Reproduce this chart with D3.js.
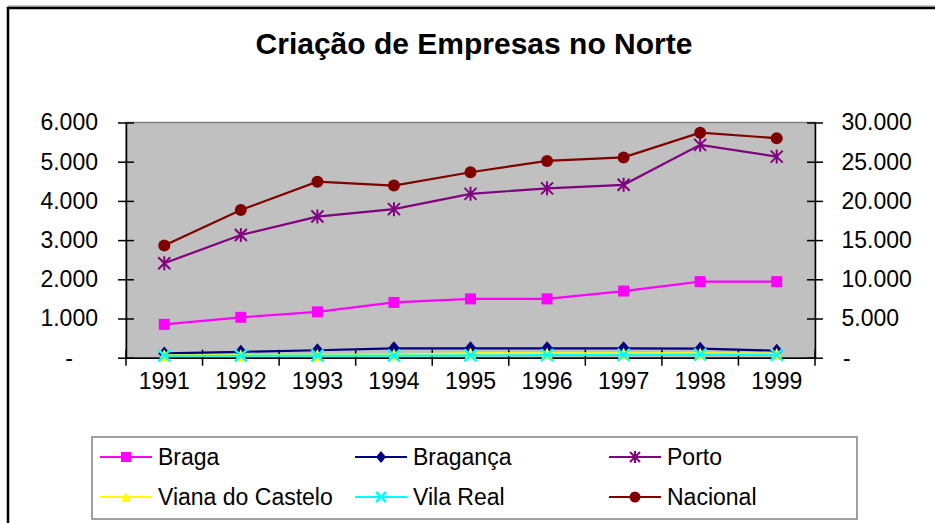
<!DOCTYPE html>
<html>
<head>
<meta charset="utf-8">
<script src="https://cdn.jsdelivr.net/npm/d3@7"></script>
<style>
  body { margin: 0; background: #fff; }
  svg { display: block; font-family: "Liberation Sans", Arial, sans-serif; }
</style>
</head>
<body>
<svg width="935" height="523"></svg>
<script>
// Data
const years = ['1991', '1992', '1993', '1994', '1995', '1996', '1997', '1998', '1999'];

const braga = [850, 1030, 1170, 1410, 1500, 1500, 1700, 1940, 1940];
const braganca = [110, 150, 190, 240, 240, 240, 240, 230, 180];
const porto = [2410, 3130, 3600, 3790, 4180, 4320, 4410, 5430, 5130];
const vianaDoCastelo = [60, 65, 70, 80, 110, 110, 110, 110, 100];
const vilaReal = [50, 50, 55, 55, 60, 65, 70, 80, 70];
const nacional = [14300, 18850, 22450, 21950, 23650, 25100, 25550, 28700, 28000];

const leftTicks = [0, 1000, 2000, 3000, 4000, 5000, 6000];
const rightTicks = [0, 5000, 10000, 15000, 20000, 25000, 30000];

const series = [
    { name: 'Braga', values: braga, axis: 'left', color: '#FF00FF', marker: 'square' },
    { name: 'Bragança', values: braganca, axis: 'left', color: '#000080', marker: 'diamond' },
    { name: 'Porto', values: porto, axis: 'left', color: '#800080', marker: 'star' },
    { name: 'Viana do Castelo', values: vianaDoCastelo, axis: 'left', color: '#FFFF00', marker: 'triangle' },
    { name: 'Vila Real', values: vilaReal, axis: 'left', color: '#00FFFF', marker: 'x' },
    { name: 'Nacional', values: nacional, axis: 'right', color: '#800000', marker: 'circle' }
];

const svg = d3.select('svg');

// outer chart frame (only top and left edges show)
svg.append('line').attr('x1', 8).attr('x2', 935).attr('y1', 6).attr('y2', 6)
    .attr('stroke', '#888').attr('stroke-width', 1);
svg.append('path').attr('d', 'M8,523 V8 H935')
    .attr('fill', 'none').attr('stroke', '#000').attr('stroke-width', 2.5);

// title
svg.append('text')
    .attr('x', 474).attr('y', 54)
    .attr('text-anchor', 'middle')
    .attr('font-size', 30).attr('font-weight', 'bold')
    .text('Criação de Empresas no Norte');

const plot = { left: 126, right: 815, top: 122.5, bottom: 357.7 };

const x = d3.scaleBand().domain(years).range([plot.left, plot.right]);
const yL = d3.scaleLinear().domain([0, 6000]).range([plot.bottom, plot.top]);
const yR = d3.scaleLinear().domain([0, 30000]).range([plot.bottom, plot.top]);
const cx = d => x(d) + x.bandwidth() / 2;

const pt = d3.formatLocale({ decimal: ',', thousands: '.', grouping: [3], currency: ['', ''] });
const fmt = v => v === 0 ? '-' : pt.format(',')(v);

// plot background
svg.append('rect')
    .attr('x', plot.left).attr('y', plot.top)
    .attr('width', plot.right - plot.left).attr('height', plot.bottom - plot.top)
    .attr('fill', '#C0C0C0').attr('stroke', '#808080').attr('stroke-width', 1.5);

// left axis
const gL = svg.append('g')
    .attr('transform', `translate(${plot.left},0)`)
    .call(d3.axisLeft(yL).tickValues(leftTicks).tickFormat(fmt).tickSizeOuter(0));
gL.select('.domain').attr('stroke', '#000').attr('stroke-width', 1.5);
gL.selectAll('.tick line').attr('x1', 8).attr('x2', -8).attr('stroke', '#000').attr('stroke-width', 1.5);
gL.selectAll('.tick text')
    .attr('x', d => d === 0 ? -53 : -28)
    .attr('font-size', 23).attr('fill', '#000').attr('font-family', null);

// right axis
const gR = svg.append('g')
    .attr('transform', `translate(${plot.right},0)`)
    .call(d3.axisRight(yR).tickValues(rightTicks).tickFormat(fmt).tickSizeOuter(0));
gR.select('.domain').attr('stroke', '#000').attr('stroke-width', 1.5);
gR.selectAll('.tick line').attr('x1', -8).attr('x2', 8).attr('stroke', '#000').attr('stroke-width', 1.5);
gR.selectAll('.tick text')
    .attr('x', d => d === 0 ? 28 : 26.5)
    .attr('font-size', 23).attr('fill', '#000').attr('font-family', null);

// bottom axis: labels centered in the bands, ticks on the band edges
const gB = svg.append('g')
    .attr('transform', `translate(0,${plot.bottom})`)
    .call(d3.axisBottom(x).tickSize(0).tickPadding(15));
gB.select('.domain').attr('stroke', '#000').attr('stroke-width', 1.5);
gB.selectAll('.tick text').attr('font-size', 23).attr('fill', '#000').attr('font-family', null);
gB.selectAll('line.edge')
    .data(years.map(d => x(d)).concat([plot.right]))
    .enter().append('line')
    .attr('class', 'edge')
    .attr('x1', d => d).attr('x2', d => d)
    .attr('y1', -8).attr('y2', 8)
    .attr('stroke', '#000').attr('stroke-width', 1.5);

// marker drawing
function drawMarker(g, type, color, size) {
    const s = size / 2;
    if (type === 'square') {
        g.append('rect').attr('x', -s).attr('y', -s).attr('width', size).attr('height', size).attr('fill', color);
    } else if (type === 'diamond') {
        g.append('path').attr('d', `M0,${-s - 1}L${s},0L0,${s + 1}L${-s},0Z`).attr('fill', color);
    } else if (type === 'triangle') {
        g.append('path').attr('d', `M0,${-s}L${s},${s}L${-s},${s}Z`).attr('fill', color);
    } else if (type === 'circle') {
        g.append('circle').attr('r', s + 0.5).attr('fill', color);
    } else if (type === 'x') {
        g.append('path').attr('d', `M${-s},${-s}L${s},${s}M${-s},${s}L${s},${-s}`)
            .attr('stroke', color).attr('stroke-width', 2.5).attr('fill', 'none');
    } else if (type === 'star') {
        g.append('path').attr('d', `M${-s},${-s}L${s},${s}M${-s},${s}L${s},${-s}M0,${-s - 1}V${s + 1}`)
            .attr('stroke', color).attr('stroke-width', 2).attr('fill', 'none');
    }
}

const markerSize = { square: 11, diamond: 12, star: 12, triangle: 12, x: 12, circle: 11 };

// series lines and markers
series.forEach(sr => {
    const y = sr.axis === 'left' ? yL : yR;
    const line = d3.line().x((v, i) => cx(years[i])).y(v => y(v));
    svg.append('path')
        .datum(sr.values)
        .attr('d', line)
        .attr('fill', 'none')
        .attr('stroke', sr.color)
        .attr('stroke-width', 2.2);
    sr.values.forEach((v, i) => {
        const g = svg.append('g').attr('transform', `translate(${cx(years[i])},${y(v)})`);
        drawMarker(g, sr.marker, sr.color, markerSize[sr.marker]);
    });
});

// legend
svg.append('rect')
    .attr('x', 92).attr('y', 437).attr('width', 765).attr('height', 82)
    .attr('fill', '#fff').attr('stroke', '#808080').attr('stroke-width', 1.5);

const legendCols = [100, 355, 609];
const legendRows = [457, 497];
series.forEach((sr, i) => {
    const lx = legendCols[i % 3];
    const ly = legendRows[Math.floor(i / 3)];
    const g = svg.append('g').attr('transform', `translate(${lx},${ly})`);
    g.append('line').attr('x1', 0).attr('x2', 52).attr('stroke', sr.color).attr('stroke-width', 2.2);
    const m = g.append('g').attr('transform', 'translate(26,0)');
    drawMarker(m, sr.marker, sr.color, 10);
    g.append('text')
        .attr('x', 58).attr('y', 8)
        .attr('font-size', 23)
        .text(sr.name);
});
</script>
</body>
</html>
